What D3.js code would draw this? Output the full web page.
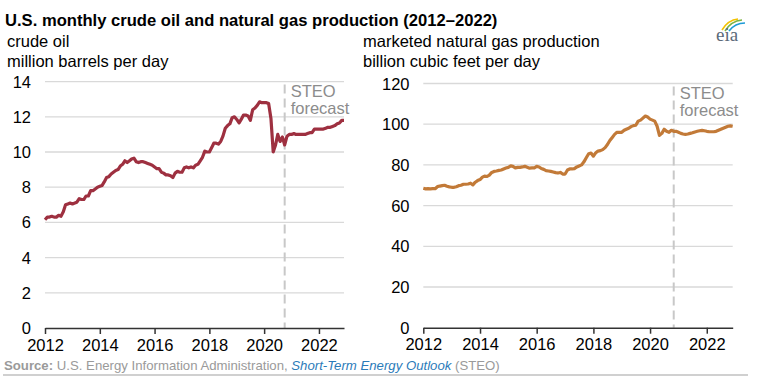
<!DOCTYPE html>
<html><head><meta charset="utf-8">
<script src="https://cdn.jsdelivr.net/npm/d3@7"></script>
<style>body{margin:0;background:#fff}svg{display:block;font-family:Arial,"Liberation Sans",sans-serif}</style>
</head><body>
<svg id="c" width="761" height="379"></svg>
<script>
const title = "U.S. monthly crude oil and natural gas production (2012\u20132022)";
const startMonth = "2012-01";
const oilValues = [
 6.15,6.3,6.3,6.35,6.3,6.3,6.4,6.35,6.6,7.0,7.05,7.1,
 7.05,7.1,7.15,7.35,7.3,7.3,7.5,7.5,7.8,7.8,7.9,8.0,
 8.05,8.1,8.3,8.55,8.6,8.75,8.85,8.95,9.0,9.2,9.3,9.5,
 9.4,9.5,9.6,9.65,9.45,9.4,9.45,9.45,9.4,9.35,9.3,9.25,
 9.15,9.05,9.05,8.85,8.8,8.7,8.7,8.65,8.55,8.8,8.9,8.85,
 8.85,9.1,9.15,9.1,9.15,9.1,9.25,9.3,9.5,9.7,10.05,10.0,
 10.0,10.25,10.5,10.5,10.45,10.6,10.9,11.35,11.5,11.6,11.95,12.0,
 11.85,11.65,11.85,12.1,12.1,12.05,11.8,12.4,12.5,12.65,12.85,12.8,
 12.8,12.8,12.75,11.9,10.0,10.4,11.0,10.6,10.85,10.4,10.9,11.0,
 11.0,11.05,11.0,11.0,11.0,11.0,11.0,11.05,11.1,11.1,11.3,11.3,
 11.3,11.3,11.3,11.35,11.4,11.4,11.45,11.5,11.6,11.65,11.8,11.8
];
const gasValues = [
 68.5,68.2,68.3,68.2,68.3,68.3,69.3,69.6,69.8,70.0,69.5,69.2,
 69.0,69.0,69.3,69.8,70.0,70.5,70.5,70.6,71.0,70.2,71.5,72.3,
 72.8,74.0,74.5,74.3,75.0,76.3,76.8,77.0,77.3,77.5,78.0,78.5,
 78.8,79.5,79.3,78.5,78.8,78.8,79.0,79.3,78.8,78.4,78.5,78.5,
 79.3,79.0,78.2,77.8,77.2,77.0,76.8,76.5,76.2,76.0,76.3,75.5,
 75.5,77.5,78.0,78.0,78.2,79.0,79.5,80.0,81.5,83.5,85.5,85.8,
 84.3,86.0,86.8,87.0,87.5,88.5,90.0,92.0,93.5,95.0,96.0,96.0,
 96.0,97.0,97.5,98.0,98.8,99.3,99.5,101.5,102.0,103.0,104.0,103.5,
 102.5,102.0,101.5,99.0,94.5,95.5,97.5,96.5,96.0,97.0,96.5,96.5,
 96.0,95.5,95.2,95.0,95.2,95.5,95.8,96.2,96.5,96.8,97.0,96.8,
 96.5,96.3,96.3,96.3,96.5,97.0,97.5,98.0,98.5,99.0,99.2,99.0
];
const xTickYears = [2012,2014,2016,2018,2020,2022];
const oilTicks = [0,2,4,6,8,10,12,14];
const gasTicks = [0,20,40,60,80,100,120];
const panelTitles = [["crude oil","million barrels per day"],["marketed natural gas production","billion cubic feet per day"]];
const forecastStarts = ["2020-10","2020-11"];
const forecastLabel = ["STEO","forecast"];
const seriesColors = ["#9e3040","#c27a38"];

const FS = 16.5;
const parseM = d3.timeParse("%Y-%m");
const t0 = parseM(startMonth);
const dates = oilValues.map((_, i) => d3.timeMonth.offset(t0, i));

const svg = d3.select("#c");

svg.append("text").attr("x",5).attr("y",26).attr("font-size",16.6).attr("font-weight","bold").attr("fill","#000").text(title);

const panels = [
  {vals: oilValues, ticks: oilTicks, x0:45, x1:344, y0:328, y1:81.6, lab:31, tx:7, color:seriesColors[0], fc:forecastStarts[0], titles:panelTitles[0]},
  {vals: gasValues, ticks: gasTicks, x0:423.3, x1:732.7, y0:327.7, y1:83.5, lab:409.5, tx:363, color:seriesColors[1], fc:forecastStarts[1], titles:panelTitles[1]}
];

panels.forEach(p => {
  const x = d3.scaleTime().domain([dates[0], dates[dates.length-1]]).range([p.x0, p.x1]);
  const y = d3.scaleLinear().domain([0, d3.max(p.ticks)]).range([p.y0, p.y1]);
  const g = svg.append("g");
  g.append("text").attr("x",p.tx).attr("y",47).attr("font-size",FS).attr("fill","#000").text(p.titles[0]);
  g.append("text").attr("x",p.tx).attr("y",67).attr("font-size",FS).attr("fill","#000").text(p.titles[1]);
  g.selectAll("line.grid").data(p.ticks.filter(v=>v>0)).join("line")
    .attr("x1",p.x0).attr("x2",p.x1).attr("y1",d=>y(d)).attr("y2",d=>y(d))
    .attr("stroke","#d9d9d9").attr("stroke-width",1.3);
  g.selectAll("text.yl").data(p.ticks).join("text")
    .attr("x",p.lab).attr("y",d=>y(d)+6).attr("text-anchor","end").attr("font-size",FS).attr("fill","#000").text(d=>d);
  const fx = x(parseM(p.fc));
  g.append("line").attr("x1",fx).attr("x2",fx).attr("y1",p.y1+3).attr("y2",p.y0)
    .attr("stroke","#c8c8c8").attr("stroke-width",2).attr("stroke-dasharray","9,5");
  g.append("text").attr("x",fx+6).attr("y",p.y1+15).attr("font-size",FS).attr("fill","#8c8c8c").text(forecastLabel[0]);
  g.append("text").attr("x",fx+6).attr("y",p.y1+32).attr("font-size",FS).attr("fill","#8c8c8c").text(forecastLabel[1]);
  const ax = g.append("g").attr("transform",`translate(0,${p.y0})`)
    .call(d3.axisBottom(x).tickValues(xTickYears.map(yr=>new Date(yr,0,1))).tickFormat(d3.timeFormat("%Y")).tickSizeInner(6).tickSizeOuter(0).tickPadding(5));
  ax.select(".domain").attr("stroke","#333").attr("stroke-width",1.5);
  ax.selectAll(".tick line").attr("stroke","#333").attr("stroke-width",1.5);
  ax.selectAll(".tick text").attr("font-size",FS).attr("fill","#000").attr("font-family","Arial,'Liberation Sans',sans-serif");
  g.append("path").datum(p.vals)
    .attr("d", d3.line().x((d,i)=>x(dates[i])).y(d=>y(d)))
    .attr("fill","none").attr("stroke",p.color).attr("stroke-width",3.2).attr("stroke-linejoin","round");
});

const src = svg.append("text").attr("x",4).attr("y",370).attr("font-size",13.2).attr("fill","#9a9a9a");
src.append("tspan").attr("font-weight","bold").text("Source:");
src.append("tspan").text(" U.S. Energy Information Administration, ");
src.append("tspan").attr("font-style","italic").attr("fill","#2b7bb9").text("Short-Term Energy Outlook");
src.append("tspan").text(" (STEO)");
svg.append("line").attr("x1",3).attr("x2",748).attr("y1",375).attr("y2",375).attr("stroke","#d0d0d0").attr("stroke-width",2);

const logo = svg.append("g");
logo.append("path").attr("d","M722,30 Q728,20 738,19").attr("fill","none").attr("stroke","#f2c200").attr("stroke-width",1.6);
logo.append("path").attr("d","M725,31 Q731,21 742,20").attr("fill","none").attr("stroke","#7cb342").attr("stroke-width",1.6);
logo.append("path").attr("d","M729,31 Q735,23 745,23").attr("fill","none").attr("stroke","#1e9bd7").attr("stroke-width",1.6);
logo.append("text").attr("x",716).attr("y",41).attr("font-size",19).attr("font-family","'Liberation Serif','DejaVu Serif',serif").attr("fill","#5b6a79").text("eia");
</script>
</body></html>
